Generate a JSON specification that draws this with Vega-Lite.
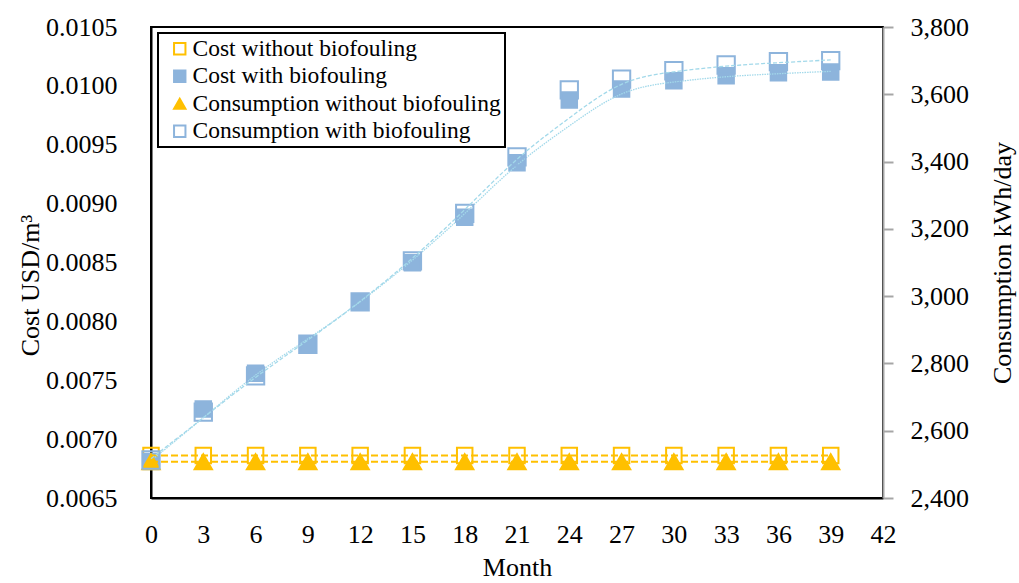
{
  "$schema": "https://vega.github.io/schema/vega-lite/v6.json",
  "width": 732,
  "height": 471,
  "autosize": {"type": "none"},
  "padding": {"left": 151, "top": 27, "right": 136, "bottom": 85},
  "background": "white",
  "data": {
    "values": [
      {"month": 0, "series": "Cost without biofouling", "value": 0.00686},
      {"month": 3, "series": "Cost without biofouling", "value": 0.00686},
      {"month": 6, "series": "Cost without biofouling", "value": 0.00686},
      {"month": 9, "series": "Cost without biofouling", "value": 0.00686},
      {"month": 12, "series": "Cost without biofouling", "value": 0.00686},
      {"month": 15, "series": "Cost without biofouling", "value": 0.00686},
      {"month": 18, "series": "Cost without biofouling", "value": 0.00686},
      {"month": 21, "series": "Cost without biofouling", "value": 0.00686},
      {"month": 24, "series": "Cost without biofouling", "value": 0.00686},
      {"month": 27, "series": "Cost without biofouling", "value": 0.00686},
      {"month": 30, "series": "Cost without biofouling", "value": 0.00686},
      {"month": 33, "series": "Cost without biofouling", "value": 0.00686},
      {"month": 36, "series": "Cost without biofouling", "value": 0.00686},
      {"month": 39, "series": "Cost without biofouling", "value": 0.00686},
      {"month": 0, "series": "Cost with biofouling", "value": 0.00681},
      {"month": 3, "series": "Cost with biofouling", "value": 0.007256},
      {"month": 6, "series": "Cost with biofouling", "value": 0.007559},
      {"month": 9, "series": "Cost with biofouling", "value": 0.00781},
      {"month": 12, "series": "Cost with biofouling", "value": 0.008165},
      {"month": 15, "series": "Cost with biofouling", "value": 0.008498},
      {"month": 18, "series": "Cost with biofouling", "value": 0.008884},
      {"month": 21, "series": "Cost with biofouling", "value": 0.009347},
      {"month": 24, "series": "Cost with biofouling", "value": 0.00988},
      {"month": 27, "series": "Cost with biofouling", "value": 0.009973},
      {"month": 30, "series": "Cost with biofouling", "value": 0.010044},
      {"month": 33, "series": "Cost with biofouling", "value": 0.010086},
      {"month": 36, "series": "Cost with biofouling", "value": 0.010112},
      {"month": 39, "series": "Cost with biofouling", "value": 0.010118},
      {"month": 0, "series": "Consumption without biofouling", "value": 2508},
      {"month": 3, "series": "Consumption without biofouling", "value": 2508},
      {"month": 6, "series": "Consumption without biofouling", "value": 2508},
      {"month": 9, "series": "Consumption without biofouling", "value": 2508},
      {"month": 12, "series": "Consumption without biofouling", "value": 2508},
      {"month": 15, "series": "Consumption without biofouling", "value": 2508},
      {"month": 18, "series": "Consumption without biofouling", "value": 2508},
      {"month": 21, "series": "Consumption without biofouling", "value": 2508},
      {"month": 24, "series": "Consumption without biofouling", "value": 2508},
      {"month": 27, "series": "Consumption without biofouling", "value": 2508},
      {"month": 30, "series": "Consumption without biofouling", "value": 2508},
      {"month": 33, "series": "Consumption without biofouling", "value": 2508},
      {"month": 36, "series": "Consumption without biofouling", "value": 2508},
      {"month": 39, "series": "Consumption without biofouling", "value": 2508},
      {"month": 0, "series": "Consumption with biofouling", "value": 2513},
      {"month": 3, "series": "Consumption with biofouling", "value": 2655},
      {"month": 6, "series": "Consumption with biofouling", "value": 2763},
      {"month": 9, "series": "Consumption with biofouling", "value": 2857},
      {"month": 12, "series": "Consumption with biofouling", "value": 2983},
      {"month": 15, "series": "Consumption with biofouling", "value": 3105},
      {"month": 18, "series": "Consumption with biofouling", "value": 3246},
      {"month": 21, "series": "Consumption with biofouling", "value": 3414},
      {"month": 24, "series": "Consumption with biofouling", "value": 3613},
      {"month": 27, "series": "Consumption with biofouling", "value": 3645},
      {"month": 30, "series": "Consumption with biofouling", "value": 3670},
      {"month": 33, "series": "Consumption with biofouling", "value": 3687},
      {"month": 36, "series": "Consumption with biofouling", "value": 3697},
      {"month": 39, "series": "Consumption with biofouling", "value": 3700}
    ]
  },
  "encoding": {
    "x": {
      "field": "month",
      "type": "quantitative",
      "title": "Month",
      "scale": {"domain": [0, 42], "nice": false, "zero": false},
      "axis": {
        "values": [0, 3, 6, 9, 12, 15, 18, 21, 24, 27, 30, 33, 36, 39, 42],
        "grid": false,
        "ticks": false,
        "tickSize": 0,
        "labelFlush": false,
        "labelPadding": 23,
        "titlePadding": 7,
        "domainColor": "black",
        "domainWidth": 2
      }
    }
  },
  "layer": [
    {
      "encoding": {
        "y": {
          "field": "value",
          "type": "quantitative",
          "title": "Cost USD/m³",
          "scale": {"domain": [0.0065, 0.0105], "nice": false, "zero": false},
          "axis": {
            "orient": "left",
            "values": [0.0065, 0.007, 0.0075, 0.008, 0.0085, 0.009, 0.0095, 0.01, 0.0105],
            "format": ".4f",
            "grid": false,
            "ticks": false,
            "tickSize": 0,
            "labelFlush": false,
            "labelPadding": 34,
            "titlePadding": 2,
            "titleY": 258,
            "domainColor": "black",
            "domainWidth": 2
          }
        }
      },
      "layer": [
        {
          "transform": [{"filter": {"field": "series", "oneOf": ["Cost without biofouling", "Cost with biofouling"]}}],
          "mark": {"type": "point", "strokeWidth": 2, "opacity": 1},
          "encoding": {
            "shape": {"field": "series", "type": "nominal", "title": null,
              "scale": {"domain": ["Cost without biofouling", "Cost with biofouling", "Consumption without biofouling", "Consumption with biofouling"],
                        "range": ["square", "square", "triangle-up", "square"]}},
            "fill": {"field": "series", "type": "nominal", "title": null,
              "scale": {"domain": ["Cost without biofouling", "Cost with biofouling", "Consumption without biofouling", "Consumption with biofouling"],
                        "range": ["transparent", "#8db4dc", "#ffc000", "transparent"]}},
            "stroke": {"field": "series", "type": "nominal", "title": null,
              "scale": {"domain": ["Cost without biofouling", "Cost with biofouling", "Consumption without biofouling", "Consumption with biofouling"],
                        "range": ["#ffc000", "#8db4dc", "#ffc000", "#8db4dc"]}},
            "size": {"value": 240}
          }
        },
        {
          "transform": [{"filter": {"field": "series", "equal": "Cost without biofouling"}}],
          "mark": {"type": "line", "stroke": "#ffc000", "strokeWidth": 2, "strokeDash": [7, 3]},
          "encoding": {}
        },
        {
          "transform": [
            {"filter": {"field": "series", "equal": "Cost with biofouling"}},
            {"loess": "value", "on": "month", "bandwidth": 0.4}
          ],
          "mark": {"type": "line", "stroke": "#a3d9ea", "strokeWidth": 1.3, "strokeDash": [1.5, 1], "interpolate": "basis"},
          "encoding": {}
        }
      ]
    },
    {
      "encoding": {
        "y": {
          "field": "value",
          "type": "quantitative",
          "title": "Consumption kWh/day",
          "scale": {"domain": [2400, 3800], "nice": false, "zero": false},
          "axis": {
            "orient": "right",
            "values": [2400, 2600, 2800, 3000, 3200, 3400, 3600, 3800],
            "format": ",.0f",
            "grid": false,
            "ticks": true,
            "tickSize": 10,
            "tickColor": "#a6a6a6",
            "tickWidth": 2,
            "labelFlush": false,
            "labelPadding": 17,
            "titleAngle": 270,
            "titleBaseline": "alphabetic",
            "titlePadding": 42,
            "domainColor": "#a6a6a6",
            "domainWidth": 2
          }
        }
      },
      "layer": [
        {
          "transform": [{"filter": {"field": "series", "oneOf": ["Consumption without biofouling", "Consumption with biofouling"]}}],
          "mark": {"type": "point", "strokeWidth": 2, "opacity": 1},
          "encoding": {
            "shape": {"field": "series", "type": "nominal", "title": null,
              "scale": {"domain": ["Cost without biofouling", "Cost with biofouling", "Consumption without biofouling", "Consumption with biofouling"],
                        "range": ["square", "square", "triangle-up", "square"]}},
            "fill": {"field": "series", "type": "nominal", "title": null,
              "scale": {"domain": ["Cost without biofouling", "Cost with biofouling", "Consumption without biofouling", "Consumption with biofouling"],
                        "range": ["transparent", "#8db4dc", "#ffc000", "transparent"]}},
            "stroke": {"field": "series", "type": "nominal", "title": null,
              "scale": {"domain": ["Cost without biofouling", "Cost with biofouling", "Consumption without biofouling", "Consumption with biofouling"],
                        "range": ["#ffc000", "#8db4dc", "#ffc000", "#8db4dc"]}},
            "size": {"value": 300}
          }
        },
        {
          "transform": [{"filter": {"field": "series", "equal": "Consumption without biofouling"}}],
          "mark": {"type": "line", "stroke": "#ffc000", "strokeWidth": 2, "strokeDash": [7, 3]},
          "encoding": {}
        },
        {
          "transform": [
            {"filter": {"field": "series", "equal": "Consumption with biofouling"}},
            {"loess": "value", "on": "month", "bandwidth": 0.4}
          ],
          "mark": {"type": "line", "stroke": "#a3d9ea", "strokeWidth": 1.3, "strokeDash": [4, 2], "interpolate": "basis"},
          "encoding": {}
        }
      ]
    }
  ],
  "resolve": {"scale": {"y": "independent"}},
  "config": {
    "font": "Liberation Serif",
    "view": {"stroke": "black", "strokeWidth": 2},
    "axis": {
      "labelFont": "Liberation Serif",
      "labelFontSize": 26,
      "labelColor": "black",
      "titleFont": "Liberation Serif",
      "titleFontSize": 26,
      "titleFontWeight": "normal",
      "titleColor": "black"
    },
    "legend": {
      "orient": "none",
      "legendX": 7,
      "legendY": 6,
      "direction": "vertical",
      "fillColor": "white",
      "strokeColor": "black",
      "strokeWidth": 2,
      "padding": 4,
      "labelFont": "Liberation Serif",
      "labelFontSize": 23.5,
      "labelColor": "black",
      "labelLimit": 400,
      "labelOffset": 1,
      "symbolOffset": 6,
      "symbolSize": 130,
      "symbolStrokeWidth": 2,
      "rowPadding": 2.5
    }
  }
}
